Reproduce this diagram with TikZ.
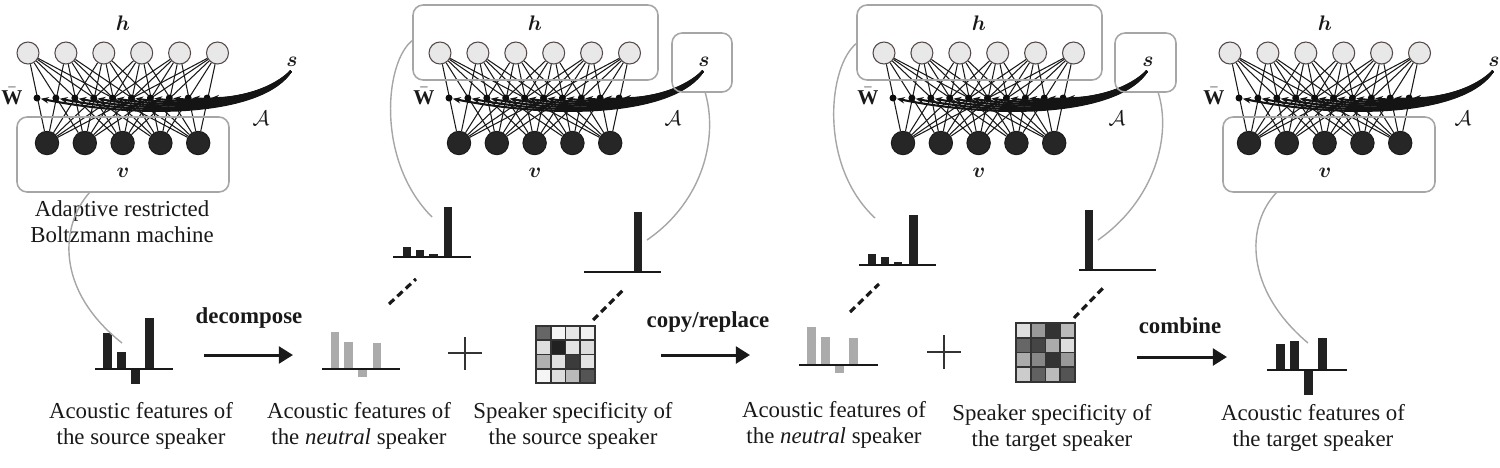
\documentclass[tikz,border=0pt]{standalone}
\usepackage{amsmath}
\usepackage{fontspec}
\setmainfont{Liberation Serif}
\usetikzlibrary{arrows.meta}
\begin{document}
\begin{tikzpicture}[x=0.02cm,y=-0.02cm,
  hid/.style={circle, draw={rgb,255:red,85;green,72;blue,72}, fill=black!9, line width=0.6pt, minimum size=0.44cm, inner sep=0pt},
  vis/.style={circle, fill=black!85, draw=black!90, line width=0.5pt, minimum size=0.47cm, inner sep=0pt},
  wdot/.style={circle, fill=black!95, minimum size=0.14cm, inner sep=0pt},
  wline/.style={line width=0.6pt, draw=black!90},
  fanline/.style={line width=1.2pt, draw=black!92, -{Stealth[length=4.5pt,width=3.6pt]}},
  gbox/.style={draw=black!35, line width=0.9pt, rounded corners=0.2cm, inner sep=0pt},
  gcurve/.style={draw=black!35, line width=0.8pt},
  lbl/.style={font=\fontsize{13}{14.8}\selectfont, align=center, text=black!90},
  blbl/.style={font=\fontsize{13}{14.8}\selectfont\bfseries, text=black!90},
  mlbl/.style={font=\fontsize{12}{14}\selectfont, text=black!90, inner sep=0.5pt},
  bigarrow/.style={line width=1.7pt, draw=black!90, -{Triangle[length=8pt,width=9.5pt]}},
  dashln/.style={line width=1.8pt, draw=black!90, dash pattern=on 4pt off 2.5pt},
  barb/.style={fill=black!87},
  barg/.style={fill=black!33},
  baseln/.style={line width=1.1pt, draw=black!90},
  plusln/.style={line width=0.7pt, draw=black!80},
  mgrid/.style={line width=0.9pt, draw=black!80}
]
\useasboundingbox (0,0) rectangle (1500,467);

% ---------------- networks ----------------
\foreach \n/\X in {1/28, 2/440, 3/884, 4/1230} {
  \foreach \i in {0,...,5} \node[hid] (h\n-\i) at ({\X+37.9*\i},53) {};
  \foreach \j in {0,...,4} \node[vis] (v\n-\j) at ({\X+19+37.8*\j},143) {};
  \foreach \i in {0,...,5} \foreach \j in {0,...,4} \draw[wline] (h\n-\i) -- (v\n-\j);
  \foreach \k in {0,...,9} \node[wdot] (d\n-\k) at ({\X+9+18.9*\k},98) {};
  \coordinate (sa\n) at ({\X+263},71);
  \foreach \k in {0,...,9}
    \draw[fanline] (sa\n) .. controls ({\X+236+1.1*\k},{114-2.9*\k}) and ({\X+120+10.5*\k},{120-2.4*\k}) .. (d\n-\k);
  \node[mlbl] (hl\n) at ({\X+95},23) {$\boldsymbol{h}$};
  \node[mlbl] (vl\n) at ({\X+95},173) {$\boldsymbol{v}$};
  \node[mlbl] (wl\n) at ({\X-16},96) {$\bar{\mathbf{W}}$};
  \node[mlbl] (sl\n) at ({\X+264},62) {$\boldsymbol{s}$};
  \node[mlbl] (al\n) at ({\X+233},118) {$\mathcal{A}$};
}

% ---------------- gray boxes ----------------
\node[gbox, minimum width=4.24cm, minimum height=1.5cm] (vb1) at (123,154.5) {};
\node[gbox, minimum width=4.24cm, minimum height=1.5cm] (vb4) at (1329,154.5) {};
\node[gbox, minimum width=4.9cm, minimum height=1.5cm] (hb2) at (535.5,42.5) {};
\node[gbox, minimum width=1.2cm, minimum height=1.18cm] (sb2) at (702,62.5) {};
\node[gbox, minimum width=4.9cm, minimum height=1.5cm] (hb3) at (979.5,42.5) {};
\node[gbox, minimum width=1.22cm, minimum height=1.18cm] (sb3) at (1145.5,62.5) {};

% ---------------- captions ----------------
\node[lbl] (arbm) at (122,222) {Adaptive restricted\\Boltzmann machine};
\node[lbl] (cap1) at (141,426) {Acoustic features of\\the source speaker};
\node[lbl] (cap2) at (359,426) {Acoustic features of\\the \textit{neutral} speaker};
\node[lbl] (cap3) at (573,426) {Speaker specificity of\\the source speaker};
\node[lbl] (cap4) at (834,425) {Acoustic features of\\the \textit{neutral} speaker};
\node[lbl] (cap5) at (1052,428) {Speaker specificity of\\the target speaker};
\node[lbl] (cap6) at (1313,428) {Acoustic features of\\the target speaker};

% ---------------- bar charts ----------------
% source speaker
\foreach \a/\b/\t in {103/112/333, 117/126/352, 131/140/384, 145/154/318} \fill[barb] (\a,369) rectangle (\b,\t);
\draw[baseln] (95,369) -- (173,369);
% neutral 1
\foreach \a/\b/\t in {331/339/332, 344/353/342, 358/367/377, 373/381/343} \fill[barg] (\a,369) rectangle (\b,\t);
\draw[baseln] (322,369) -- (400,369);
% neutral 2
\foreach \a/\b/\t in {807/816/327, 821/830/337, 835/844/373, 849/858/338} \fill[barg] (\a,365) rectangle (\b,\t);
\draw[baseln] (799,365) -- (878,365);
% target speaker
\foreach \a/\b/\t in {1276/1285/344, 1290/1299/341, 1304/1313/395, 1318/1327/338} \fill[barb] (\a,370) rectangle (\b,\t);
\draw[baseln] (1267,370) -- (1347,370);
% small h charts
\foreach \a/\b/\t in {403/411/247, 416/424/250, 429/438/254, 444/452/207} \fill[barb] (\a,257) rectangle (\b,\t);
\draw[baseln] (393,257) -- (471,257);
\foreach \a/\b/\t in {868/876/254, 881/889/257, 894/902/262, 909/918/215} \fill[barb] (\a,265) rectangle (\b,\t);
\draw[baseln] (859,265) -- (936,265);
% tall s charts
\fill[barb] (634,272) rectangle (642,212);
\draw[baseln] (584,272) -- (661,272);
\fill[barb] (1085,270) rectangle (1093,210);
\draw[baseln] (1079,270) -- (1156,270);

% ---------------- matrices ----------------
\foreach \v [count=\c from 0] in {60,4,10,6, 13,87,11,13, 31,12,77,11, 4,13,27,67} {
  \pgfmathtruncatemacro\cc{mod(\c,4)}
  \pgfmathtruncatemacro\rr{\c/4}
  \fill[black!\v] ({536+14.75*\cc},{326+14.25*\rr}) rectangle +(14.75,14.25);
}
\foreach \q in {1,2,3} {
  \draw[mgrid] ({536+14.75*\q},326) -- ({536+14.75*\q},383);
  \draw[mgrid] (536,{326+14.25*\q}) -- (595,{326+14.25*\q});
}
\draw[mgrid, line width=1.3pt] (536,326) rectangle (595,383);

\foreach \v [count=\c from 0] in {13,40,80,27, 60,73,33,13, 33,47,80,40, 20,62,27,67} {
  \pgfmathtruncatemacro\cc{mod(\c,4)}
  \pgfmathtruncatemacro\rr{\c/4}
  \fill[black!\v] ({1016+14.75*\cc},{323+14.75*\rr}) rectangle +(14.75,14.75);
}
\foreach \q in {1,2,3} {
  \draw[mgrid] ({1016+14.75*\q},323) -- ({1016+14.75*\q},382);
  \draw[mgrid] (1016,{323+14.75*\q}) -- (1075,{323+14.75*\q});
}
\draw[mgrid, line width=1.3pt] (1016,323) rectangle (1075,382);

% ---------------- plus signs ----------------
\draw[plusln] (448,353) -- (482,353);
\draw[plusln] (465,337) -- (465,370);
\draw[plusln] (927,352) -- (961,352);
\draw[plusln] (944,335) -- (944,369);

% ---------------- process arrows ----------------
\coordinate (a1s) at (204,355); \coordinate (a1e) at (293,355);
\coordinate (a2s) at (661,355); \coordinate (a2e) at (750,355);
\coordinate (a3s) at (1137,357); \coordinate (a3e) at (1227,357);
\draw[bigarrow] (a1s) -- (a1e);
\draw[bigarrow] (a2s) -- (a2e);
\draw[bigarrow] (a3s) -- (a3e);
\node[blbl] (t1) at (249,318) {decompose};
\node[blbl] (t2) at (708,322) {copy/replace};
\node[blbl] (t3) at (1180,326) {combine};

% ---------------- dashed links ----------------
\coordinate (n1d) at (389,304); \coordinate (n1u) at (416,279);
\coordinate (m1d) at (593,320); \coordinate (m1u) at (625,288);
\coordinate (n2d) at (850,312); \coordinate (n2u) at (879,284);
\coordinate (m2d) at (1074,318); \coordinate (m2u) at (1103,288);
\draw[dashln] (n1d) -- (n1u);
\draw[dashln] (m1d) -- (m1u);
\draw[dashln] (n2d) -- (n2u);
\draw[dashln] (m2d) -- (m2u);

% ---------------- gray connecting curves ----------------
\coordinate (g1s) at (90,192);   \coordinate (g1e) at (122,343);
\coordinate (g2s) at (413,40);   \coordinate (g2e) at (432,217);
\coordinate (g3s) at (705,92);   \coordinate (g3e) at (647,240);
\coordinate (g4s) at (857,43);   \coordinate (g4e) at (875,218);
\coordinate (g5s) at (1158,92);  \coordinate (g5e) at (1098,240);
\coordinate (g6s) at (1277,192); \coordinate (g6e) at (1308,343);
\draw[gcurve] (g1s) .. controls (60,225) and (55,290) .. (g1e);
\draw[gcurve] (g2s) .. controls (385,60) and (375,160) .. (g2e);
\draw[gcurve] (g3s) .. controls (718,135) and (705,200) .. (g3e);
\draw[gcurve] (g4s) .. controls (828,65) and (818,165) .. (g4e);
\draw[gcurve] (g5s) .. controls (1172,135) and (1155,200) .. (g5e);
\draw[gcurve] (g6s) .. controls (1245,225) and (1245,290) .. (g6e);
\end{tikzpicture}
\end{document}
